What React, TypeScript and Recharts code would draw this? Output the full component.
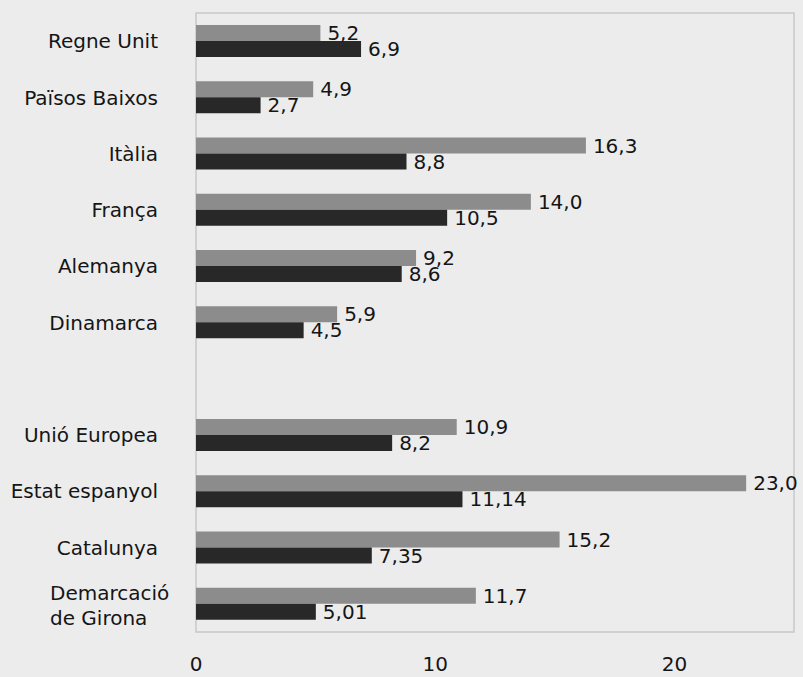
import { BarChart, Bar, XAxis, YAxis, LabelList, ReferenceArea } from 'recharts';

const categories = [
  'Regne Unit',
  'Països Baixos',
  'Itàlia',
  'França',
  'Alemanya',
  'Dinamarca',
  '',
  'Unió Europea',
  'Estat espanyol',
  'Catalunya',
  'Demarcació\nde Girona',
];
const greyValues = [5.2, 4.9, 16.3, 14.0, 9.2, 5.9, null, 10.9, 23.0, 15.2, 11.7];
const darkValues = [6.9, 2.7, 8.8, 10.5, 8.6, 4.5, null, 8.2, 11.14, 7.35, 5.01];
const xTicks = [0, 10, 20];

const FONT = '"DejaVu Sans", sans-serif';
const TEXT = '#151515';

const data = categories.map((name, i) => ({
  name,
  grey: greyValues[i],
  dark: darkValues[i],
}));

// catalan style decimals: 23 -> "23,0", 11.14 -> "11,14"
const fmt = (v: any) => {
  if (v == null || v === '') return '';
  const n = Number(v);
  return Number.isInteger(n) ? `${n},0` : String(n).replace('.', ',');
};

function CategoryTick(props: any) {
  const { x, y, payload } = props;
  const lines = String(payload.value).split('\n');
  if (!payload.value) return null;
  if (lines.length === 1) {
    return (
      <text x={x} y={y} dy="0.355em" textAnchor="end" fill={TEXT} fontSize={20} fontFamily={FONT}>
        {lines[0]}
      </text>
    );
  }
  return (
    <text x={x - 108} y={y} textAnchor="start" fill={TEXT} fontSize={20} fontFamily={FONT}>
      <tspan x={x - 108} dy={-4}>{lines[0]}</tspan>
      <tspan x={x - 108} dy={25}>{lines[1]}</tspan>
    </text>
  );
}

export default function App() {
  return (
    <div style={{ width: 803, height: 677, background: '#ececec' }}>
      <style>{`body{margin:0;background:#ececec}`}</style>
      <BarChart
        width={803}
        height={677}
        data={data}
        layout="vertical"
        margin={{ top: 13, right: 9, left: 0, bottom: 0 }}
        barGap={0}
        barSize={16}
      >
        <ReferenceArea x1={0} x2={25} fill="none" stroke="#c8c8c8" strokeWidth={1.5} />
        <XAxis
          type="number"
          domain={[0, 25]}
          ticks={xTicks}
          axisLine={false}
          tickLine={false}
          tickSize={0}
          tickMargin={25}
          height={45}
          tick={{ fill: TEXT, fontSize: 20, fontFamily: FONT }}
        />
        <YAxis
          type="category"
          dataKey="name"
          width={196}
          axisLine={false}
          tickLine={false}
          tickSize={0}
          tickMargin={38}
          interval={0}
          tick={<CategoryTick />}
        />
        <Bar dataKey="grey" fill="#8c8c8c" isAnimationActive={false}>
          <LabelList
            dataKey="grey"
            position="right"
            offset={7}
            formatter={fmt}
            style={{ fill: TEXT, fontSize: 20, fontFamily: FONT }}
          />
        </Bar>
        <Bar dataKey="dark" fill="#282828" isAnimationActive={false}>
          <LabelList
            dataKey="dark"
            position="right"
            offset={7}
            formatter={fmt}
            style={{ fill: TEXT, fontSize: 20, fontFamily: FONT }}
          />
        </Bar>
      </BarChart>
    </div>
  );
}
